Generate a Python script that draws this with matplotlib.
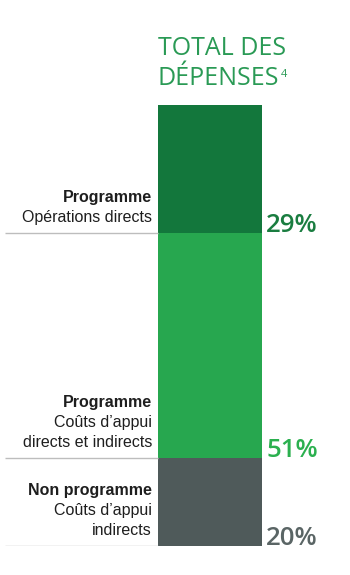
import matplotlib
matplotlib.use("Agg")
import matplotlib.pyplot as plt

# data
headers = ["Programme", "Programme", "Non programme"]
sublines = [["Opérations directs"],
            ["Coûts d’appui", "directs et indirects"],
            ["Coûts d’appui", "indirects"]]
values = [29, 51, 20]
colors = ["#13773c", "#27a74f", "#4f5a5a"]
pct_colors = ["#1a7d40", "#2bb04f", "#5a6565"]
title_lines = ["TOTAL DES", "DÉPENSES"]

fig = plt.figure(figsize=(3.5, 5.75), dpi=100)
ax = fig.add_axes([0, 29 / 575, 1, 441 / 575])
ax.set_xlim(0, 350)
ax.set_ylim(100, 0)
ax.axis("off")

bar_left, bar_w = 158, 104
bottom = 0
for i, v in enumerate(values):
    ax.bar(bar_left, v, width=bar_w, bottom=bottom, color=colors[i], align="edge")
    bottom += v
    ax.hlines(bottom, 5, bar_left, color="#bdbdbd", lw=1.0)
    ax.annotate(f"{v}%", (bar_left + bar_w + 4, bottom), xytext=(0, 1),
                textcoords="offset pixels", ha="left", va="baseline",
                fontsize=18.5, fontweight="semibold", family=["Open Sans", "DejaVu Sans"],
                color=pct_colors[i], annotation_clip=False)
    lines = [(headers[i], "bold")] + [(s, "normal") for s in sublines[i]]
    n = len(lines)
    for k, (txt, w) in enumerate(lines):
        off = 11 + 20 * (n - 1 - k)
        ax.annotate(txt, (bar_left - 6, bottom), xytext=(0, off),
                    textcoords="offset pixels", ha="right", va="baseline",
                    fontsize=11.5, fontweight=w, family=["Liberation Sans", "DejaVu Sans"],
                    color="#1e1e1e", annotation_clip=False)

for j, t in enumerate(title_lines):
    fig.text(158 / 350, 1 - (55 + 30 * j) / 575, t, ha="left", va="baseline",
             fontsize=18, fontweight="normal", family=["Open Sans", "DejaVu Sans"],
             color="#2a9a55")
fig.text(281 / 350, 1 - 77 / 575, "4", ha="left", va="baseline",
         fontsize=8, family=["Open Sans", "DejaVu Sans"], color="#2a9a55")

fig.savefig("out.png", dpi=100)
